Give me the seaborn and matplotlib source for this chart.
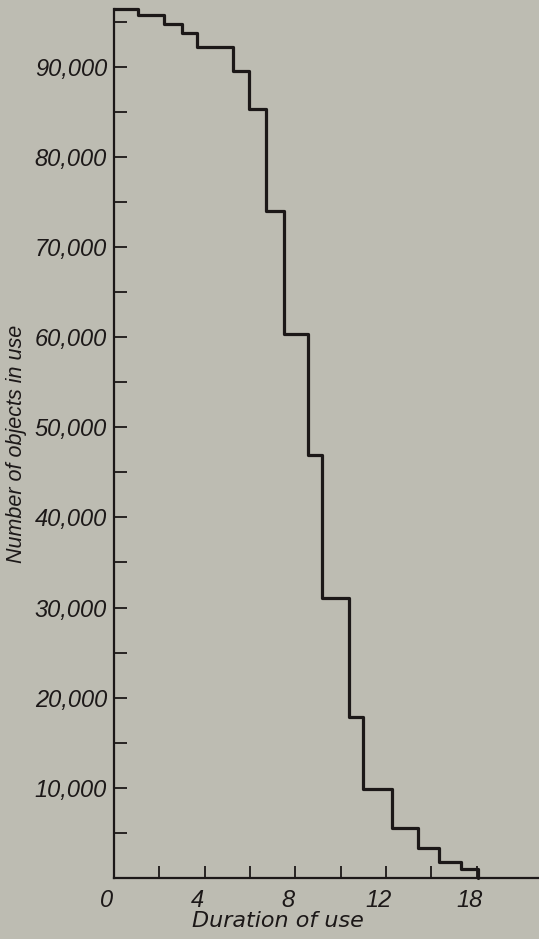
import matplotlib
matplotlib.use("Agg")
import matplotlib.pyplot as plt
import matplotlib.ticker as mticker
import matplotlib.transforms as mtransforms
import numpy as np
import pandas as pd
import seaborn as sns

# Datos (escalones de la curva)
bordes = [0, 1.05, 2.22, 3.0, 3.65, 5.26, 5.95, 6.69, 7.48, 8.55, 9.18,
          10.37, 11.0, 12.27, 13.41, 14.36, 15.33, 16.05]
objetos = [96400, 95700, 94700, 93700, 92200, 89500, 85300, 74000, 60300,
           46900, 31100, 17900, 9900, 5500, 3300, 1750, 1000]

x_ticks = [0, 4, 8, 12, 16]
x_labels = ["0", "4", "8", "12", "18"]
x_minor = [2, 6, 10, 14]
y_ticks = [10000, 20000, 30000, 40000, 50000, 60000, 70000, 80000, 90000]
y_labels = ["10,000", "20,000", "30,000", "40,000", "50,000",
            "60,000", "70,000", "80,000", "90,000"]
y_minor = [5000, 15000, 25000, 35000, 45000, 55000, 65000, 75000, 85000, 95000]

fondo = "#bdbcb2"
tinta = "#1c1818"

sns.set_style("white")
plt.rcParams['font.family'] = ['DejaVu Sans']

df = pd.DataFrame({"duracion": bordes, "cantidad": objetos + [0]})

fig = plt.figure(figsize=(5.39, 9.39), dpi=100)
fig.patch.set_facecolor(fondo)
ax = fig.add_axes([114 / 539, 1 - 878 / 939, (539 - 114) / 539, (878 - 9) / 939])
ax.set_facecolor(fondo)

sns.lineplot(data=df, x="duracion", y="cantidad", ax=ax, color=tinta,
             linewidth=2.3, drawstyle="steps-post", clip_on=False)

ax.set_xlim(0, 18.75)
ax.set_ylim(0, 96400)

# Ejes: solo izquierda y abajo
for lado in ["top", "right"]:
    ax.spines[lado].set_visible(False)
for lado in ["left", "bottom"]:
    ax.spines[lado].set_color(tinta)
    ax.spines[lado].set_linewidth(1.6)

tick_font = {"family": ["Liberation Sans", "DejaVu Sans"],
             "style": "italic", "size": 17, "color": tinta}

ax.xaxis.set_major_locator(mticker.FixedLocator(x_ticks))
ax.xaxis.set_minor_locator(mticker.FixedLocator(x_minor))
ax.set_xticklabels(x_labels, fontdict=tick_font)
ax.yaxis.set_major_locator(mticker.FixedLocator(y_ticks))
ax.yaxis.set_minor_locator(mticker.FixedLocator(y_minor))
ax.set_yticklabels(y_labels, fontdict=tick_font)

# marcas hacia adentro, como en el original
ax.tick_params(axis="both", which="both", direction="in", length=9,
               width=1.3, color=tinta, bottom=True, left=True)
ax.tick_params(axis="x", which="both", pad=8)
ax.tick_params(axis="y", which="both", pad=5)

# los numeros del eje x quedan un poco a la izquierda de sus marcas
desplaza = mtransforms.ScaledTranslation(-7 / 100, 0, fig.dpi_scale_trans)
for lbl in ax.get_xticklabels():
    lbl.set_transform(lbl.get_transform() + desplaza)

ax.set_xlabel("Duration of use", fontsize=16, style="italic", color=tinta)
ax.set_ylabel("Number of objects in use", fontsize=15.5, style="italic",
              color=tinta, family=["Liberation Sans", "DejaVu Sans"])
ax.xaxis.set_label_coords(0.386, -0.038)
ax.yaxis.set_label_coords(-0.205, 0.5)

plt.savefig("out.png", dpi=100, facecolor=fondo)
